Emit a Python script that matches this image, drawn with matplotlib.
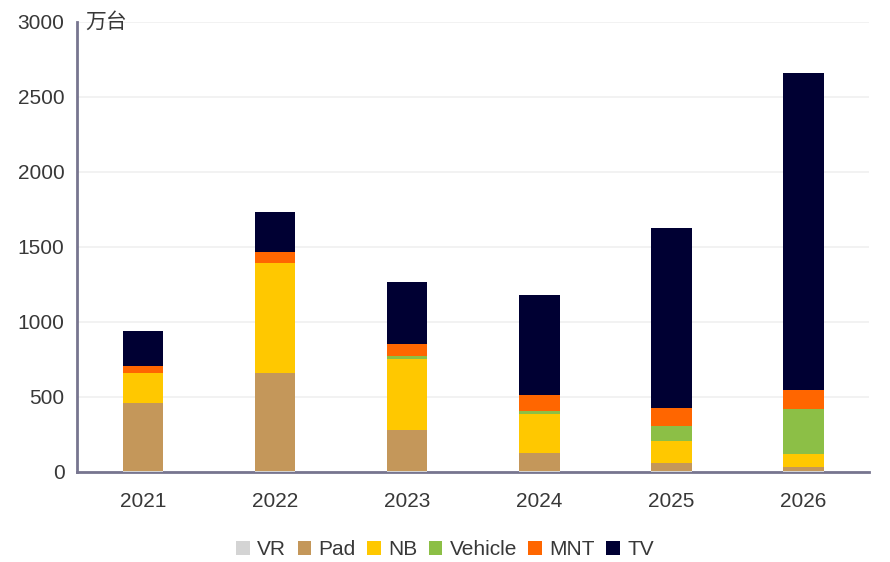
import matplotlib.pyplot as plt
import numpy as np

plt.rcParams['font.family'] = ['Liberation Sans', 'Noto Sans CJK SC', 'DejaVu Sans']

# shipments per year, in 10k units
years = ['2021', '2022', '2023', '2024', '2025', '2026']
vr = [4, 4, 4, 4, 4, 4]
pad = [452, 651, 270, 117, 55, 25]
nb = [200, 734, 474, 260, 142, 85]
vehicle = [0, 0, 20, 20, 100, 300]
mnt = [47, 74, 80, 107, 120, 127]
tv = [232, 266, 414, 668, 1202, 2116]

series = [
    ('VR', vr, '#d4d4d4'),
    ('Pad', pad, '#c4975a'),
    ('NB', nb, '#ffc800'),
    ('Vehicle', vehicle, '#8cbf46'),
    ('MNT', mnt, '#ff6600'),
    ('TV', tv, '#000033'),
]

fig = plt.figure(figsize=(8.9, 5.62), dpi=100)
ax = fig.add_axes([0.0865, 0.161, 0.89, 0.8])

x = np.arange(len(years))
bottom = np.zeros(len(years))
for name, vals, color in series:
    ax.bar(x, vals, width=0.31, bottom=bottom, color=color, label=name, zorder=3)
    bottom += np.array(vals)

ax.set_xlim(-0.5, len(years) - 0.5)
ax.set_ylim(0, 3000)
ax.set_yticks(range(0, 3001, 500))
ax.set_xticks(x)
ax.set_xticklabels(years)
ax.yaxis.grid(True, color='#f0f0f0', linewidth=1.2, zorder=0)
ax.tick_params(axis='both', length=0, labelsize=15, colors='#383838')
ax.tick_params(axis='x', pad=15)
ax.tick_params(axis='y', pad=9)

for side in ['top', 'right']:
    ax.spines[side].set_visible(False)
for side in ['left', 'bottom']:
    ax.spines[side].set_color('#77758f')
    ax.spines[side].set_linewidth(2)

ax.text(0.01, 1.0, '万台', transform=ax.transAxes, fontsize=15,
        family=['Noto Sans CJK SC'], color='#383838', va='center', ha='left')

fig.legend(loc='center', bbox_to_anchor=(0.5, 0.022), ncol=6, frameon=False,
           fontsize=15, handlelength=0.65, handleheight=0.65, handletextpad=0.35,
           columnspacing=0.55, labelcolor='#383838')

fig.savefig('out.png', dpi=100)
